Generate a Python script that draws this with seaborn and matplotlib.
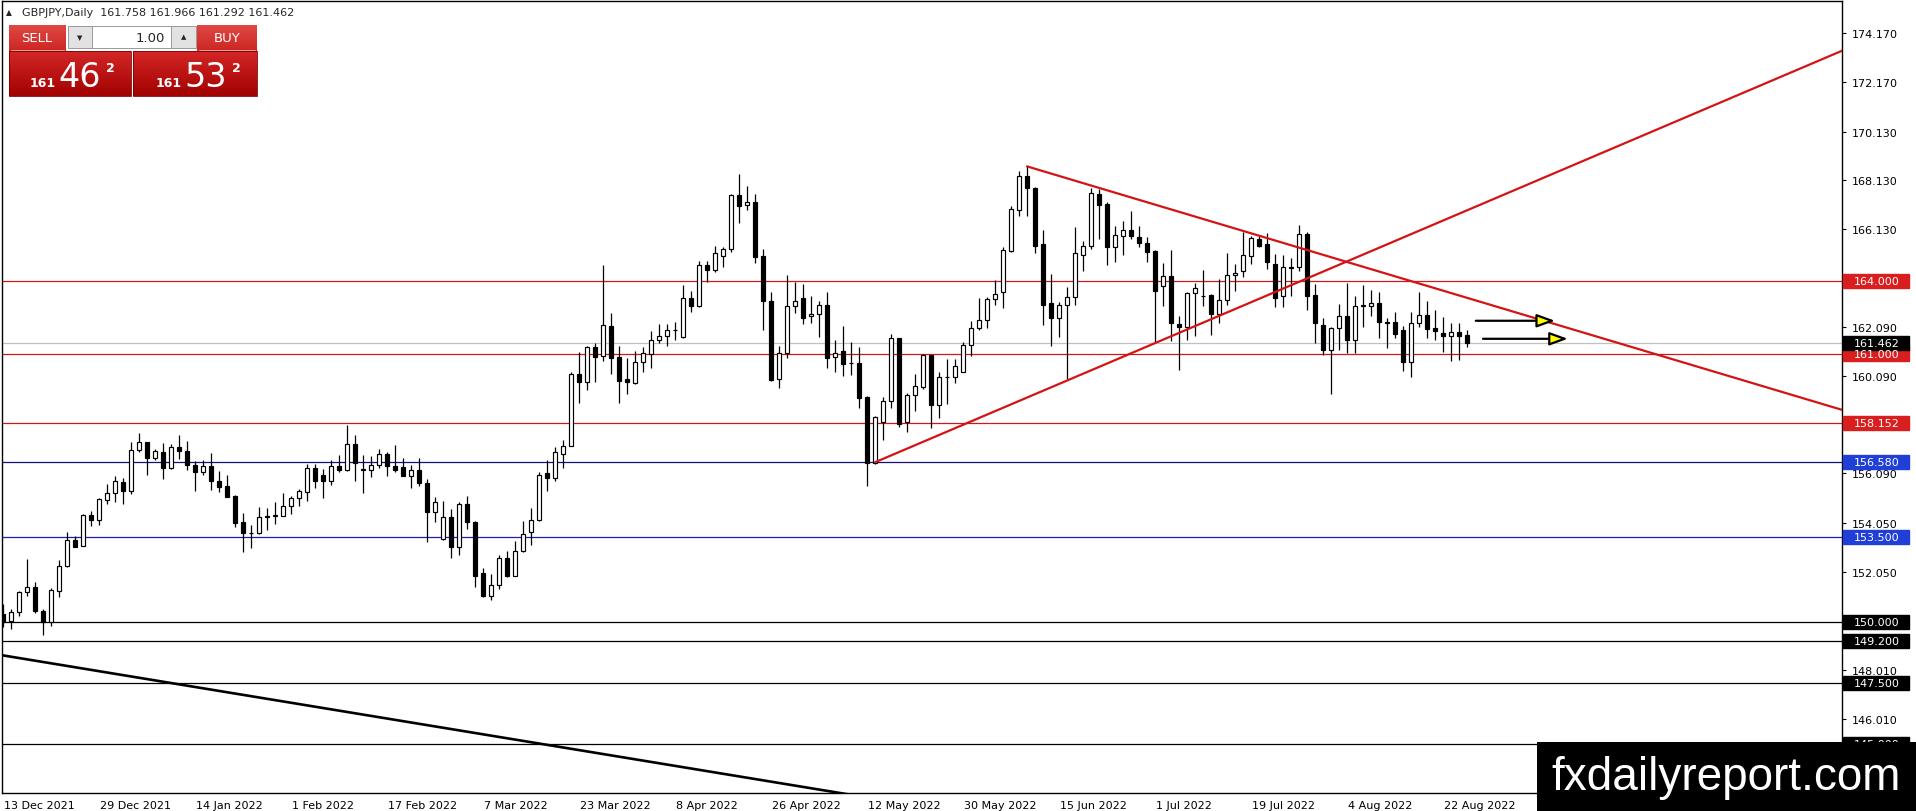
import matplotlib
matplotlib.use("Agg")
import matplotlib.pyplot as plt
import matplotlib.transforms as mtransforms
from matplotlib.patches import Rectangle
from matplotlib.colors import LinearSegmentedColormap
import numpy as np
import pandas as pd
import seaborn as sns

# chart header
symbol_title = "GBPJPY,Daily  161.758 161.966 161.292 161.462"
first_day = "2021-12-13"

# daily OHLC, one value per bar
opens = [150.32, 150.02, 150.39, 151.21, 151.42, 150.43, 150.00, 151.28, 152.28, 153.36,
         153.13, 154.39, 154.20, 155.02, 155.28, 155.73, 155.39, 157.07, 157.37, 156.71,
         156.96, 156.33, 157.17, 157.00, 156.45, 156.14, 156.39, 155.77, 155.56, 155.15,
         154.09, 153.66, 153.66, 154.29, 154.33, 154.36, 154.74, 155.07, 155.32, 156.30,
         156.02, 155.77, 156.41, 156.25, 157.30, 156.28, 156.25, 156.45, 156.88, 156.41,
         156.34, 156.00, 156.25, 155.69, 154.50, 153.40, 154.29, 153.06, 154.84, 154.09,
         152.01, 151.05, 151.51, 152.61, 151.90, 152.92, 153.67, 154.20, 156.10, 155.91,
         156.88, 157.23, 160.18, 159.86, 161.27, 160.90, 162.13, 160.86, 159.97, 159.81,
         160.66, 161.00, 161.55, 161.75, 162.00, 161.68, 163.28, 162.96, 164.63, 164.46,
         165.01, 165.31, 167.53, 167.12, 167.23, 165.04, 163.19, 159.97, 161.02, 162.96,
         163.28, 162.54, 162.63, 163.01, 160.86, 161.11, 160.63, 160.63, 159.22, 156.52,
         158.22, 159.08, 161.66, 158.19, 159.31, 159.63, 160.96, 158.92, 160.07, 160.04,
         160.25, 161.38, 162.05, 162.41, 163.26, 163.53, 165.24, 166.92, 168.29, 167.80,
         165.52, 163.09, 162.46, 163.01, 163.32, 165.05, 165.45, 167.57, 167.16, 165.38,
         165.85, 166.10, 165.79, 165.54, 165.21, 163.78, 164.19, 162.23, 162.09, 163.49,
         163.39, 163.42, 162.64, 163.22, 164.22, 164.42, 165.03, 165.72, 165.51, 164.69,
         163.39, 164.56, 164.56, 165.93, 163.42, 162.19, 161.18, 162.05, 162.55, 161.55,
         162.98, 162.98, 163.08, 162.30, 162.30, 161.98, 160.68, 162.26, 162.61, 162.07,
         161.85, 161.72, 161.89, 161.758]
highs = [150.73, 150.53, 151.28, 152.58, 151.62, 150.53, 151.38, 152.54, 153.67, 153.51,
         154.43, 154.54, 155.09, 155.66, 156.00, 155.89, 157.37, 157.75, 157.40, 157.10,
         157.34, 157.30, 157.67, 157.41, 156.62, 156.66, 156.92, 156.18, 156.03, 155.21,
         154.46, 153.98, 154.70, 154.66, 154.91, 155.29, 155.15, 155.45, 156.48, 156.48,
         156.27, 156.66, 156.85, 158.06, 157.69, 156.85, 156.80, 157.10, 156.99, 157.26,
         156.71, 156.45, 156.71, 155.87, 155.14, 154.95, 154.63, 154.91, 155.18, 154.15,
         152.21, 151.96, 152.74, 152.92, 153.33, 154.13, 154.66, 156.14, 156.66, 157.17,
         157.47, 160.25, 161.07, 161.34, 161.45, 164.63, 162.68, 161.31, 160.82, 161.13,
         161.30, 161.93, 162.23, 162.23, 162.30, 163.83, 163.57, 164.80, 164.83, 165.42,
         165.38, 167.57, 168.39, 167.88, 167.57, 165.31, 163.56, 161.34, 164.24, 163.97,
         163.87, 163.39, 163.19, 163.53, 161.57, 162.16, 161.48, 161.27, 159.26, 158.47,
         159.22, 161.82, 161.66, 159.38, 160.18, 161.00, 160.96, 160.24, 160.79, 160.79,
         161.50, 162.34, 163.28, 163.35, 164.05, 165.38, 167.06, 168.50, 168.70, 167.84,
         166.09, 164.28, 163.12, 163.74, 166.20, 165.65, 167.80, 167.77, 167.23, 166.27,
         166.47, 166.88, 166.27, 165.79, 165.28, 164.73, 165.27, 162.54, 163.56, 163.91,
         164.45, 163.46, 164.08, 165.15, 164.69, 166.02, 165.83, 165.83, 165.97, 165.10,
         165.06, 164.93, 166.29, 166.00, 163.87, 162.49, 162.09, 163.05, 163.90, 163.36,
         163.83, 163.64, 163.56, 162.46, 162.74, 162.16, 162.71, 163.53, 163.19, 162.81,
         162.50, 162.26, 162.26, 161.966]
lows = [149.77, 149.70, 150.22, 151.05, 150.36, 149.47, 149.84, 151.03, 152.24, 153.09,
        153.10, 153.95, 153.98, 154.84, 154.93, 154.84, 155.25, 156.96, 156.03, 156.66,
        155.87, 156.28, 156.69, 156.25, 155.39, 156.04, 155.43, 155.34, 155.11, 153.88,
        152.85, 153.04, 153.61, 153.78, 154.02, 154.33, 154.43, 154.74, 154.98, 155.50,
        155.08, 155.62, 156.17, 156.21, 155.80, 155.28, 155.93, 156.30, 156.00, 156.17,
        155.97, 155.48, 155.56, 153.29, 154.11, 153.37, 152.61, 152.74, 153.79, 151.42,
        151.00, 150.91, 151.35, 151.83, 151.90, 152.88, 153.15, 154.15, 155.39, 155.80,
        156.32, 157.21, 158.99, 159.53, 159.84, 160.72, 160.18, 158.99, 159.36, 159.77,
        160.24, 160.42, 161.45, 161.34, 161.59, 161.64, 162.74, 162.91, 163.97, 164.38,
        164.58, 165.17, 166.38, 166.91, 164.73, 162.00, 159.90, 159.59, 160.83, 162.68,
        162.23, 162.27, 161.71, 160.41, 160.25, 160.11, 160.14, 158.78, 155.56, 156.48,
        157.45, 158.77, 157.99, 157.81, 158.67, 159.56, 157.95, 158.36, 158.94, 159.79,
        160.25, 160.90, 162.00, 162.05, 163.01, 162.87, 165.20, 166.65, 166.65, 165.13,
        162.20, 161.31, 161.68, 159.97, 163.02, 164.42, 165.31, 165.72, 164.63, 164.76,
        165.06, 165.72, 165.38, 164.76, 161.50, 162.95, 161.54, 160.35, 161.55, 161.75,
        162.98, 161.78, 162.27, 163.01, 163.60, 164.15, 164.69, 165.38, 164.49, 162.94,
        162.94, 163.39, 164.42, 162.82, 161.45, 160.96, 159.35, 161.18, 161.04, 161.04,
        162.09, 162.57, 161.64, 161.23, 161.64, 160.31, 160.04, 162.09, 161.64, 161.59,
        161.09, 160.72, 160.76, 161.292]
closes = [149.98, 150.39, 151.21, 151.42, 150.43, 150.00, 151.31, 152.28, 153.36, 153.09,
          154.39, 154.20, 155.04, 155.29, 155.78, 155.39, 157.07, 157.37, 156.71, 157.00,
          156.33, 157.17, 157.00, 156.45, 156.17, 156.39, 155.77, 155.55, 155.14, 154.04,
          153.63, 153.64, 154.29, 154.33, 154.39, 154.74, 155.07, 155.39, 156.30, 155.80,
          155.77, 156.41, 156.25, 157.30, 156.51, 156.25, 156.45, 156.88, 156.41, 156.25,
          156.00, 156.25, 155.69, 154.50, 154.91, 154.29, 153.06, 154.84, 154.09, 151.90,
          151.05, 151.51, 152.61, 151.90, 152.89, 153.61, 154.20, 156.04, 155.91, 156.96,
          157.23, 160.18, 159.86, 161.27, 160.89, 162.19, 160.83, 159.90, 159.83, 160.66,
          161.02, 161.55, 161.75, 162.00, 161.98, 163.28, 162.96, 164.63, 164.46, 165.13,
          165.31, 167.53, 167.09, 167.23, 164.99, 163.19, 159.94, 161.02, 162.96, 163.16,
          162.49, 162.64, 163.01, 160.85, 161.02, 160.59, 160.61, 159.19, 156.52, 158.40,
          159.08, 161.64, 158.12, 159.31, 159.70, 160.96, 158.92, 160.04, 160.05, 160.49,
          161.37, 162.05, 162.41, 163.26, 163.46, 165.27, 166.95, 168.29, 167.80, 165.45,
          163.02, 162.46, 163.01, 163.32, 165.13, 165.45, 167.61, 167.13, 165.38, 165.88,
          166.10, 165.83, 165.54, 165.17, 163.57, 164.19, 162.26, 162.09, 163.49, 163.69,
          163.37, 162.64, 163.22, 164.24, 164.33, 165.06, 165.75, 165.45, 164.76, 163.28,
          164.56, 164.54, 165.93, 163.39, 162.27, 161.18, 162.05, 162.55, 161.55, 162.96,
          163.02, 163.08, 162.30, 162.28, 161.82, 160.68, 162.26, 162.61, 162.02, 161.96,
          161.72, 161.89, 161.72, 161.462]

date_ticks = ["13 Dec 2021", "29 Dec 2021", "14 Jan 2022", "1 Feb 2022", "17 Feb 2022",
              "7 Mar 2022", "23 Mar 2022", "8 Apr 2022", "26 Apr 2022", "12 May 2022",
              "30 May 2022", "15 Jun 2022", "1 Jul 2022", "19 Jul 2022", "4 Aug 2022",
              "22 Aug 2022"]

# horizontal levels
levels = [164.000, 161.000, 158.152, 156.580, 153.500, 150.000, 149.200, 147.500, 145.000]
level_line_colors = ["#D01818", "#D01818", "#D01818", "#12127A", "#1E1EA8",
                     "black", "black", "black", "black"]
level_label_colors = ["#D81E1E", "#D81E1E", "#D81E1E", "#1F3FD6", "#1F3FD6",
                      "black", "black", "black", "black"]
bid_price = 161.462

price_ticks = [174.170, 172.170, 170.130, 168.130, 166.130, 162.090, 160.090,
               156.090, 154.050, 152.050, 148.010, 146.010]

# trend lines: (bar, price) pairs
trend_bars = [[109, 229.9], [128, 229.9], [0, 110]]
trend_prices = [[156.55, 173.45], [168.70, 158.70], [148.62, 142.68]]
trend_colors = ["#D41414", "#D41414", "black"]
trend_widths = [1.6, 1.6, 1.9]

# yellow arrows
arrow_from = [184.1, 185.0]
arrow_to = [194.0, 195.6]
arrow_price = [162.36, 161.62]

W, H = 1916, 812

sns.set_style("white")
plt.rcParams["font.family"] = ["DejaVu Sans"]

df = pd.DataFrame({"open": opens, "high": highs, "low": lows, "close": closes})
df["date"] = pd.bdate_range(first_day, periods=len(df))
df["bar"] = np.arange(len(df))
bull = df["close"] >= df["open"]

fig = plt.figure(figsize=(W / 100, H / 100), dpi=100)
fig.patch.set_facecolor("white")
ax = fig.add_axes([2 / W, (H - 794) / H, 1840 / W, 792 / H])
ax.set_facecolor("white")

for p, c in zip(levels, level_line_colors):
    ax.axhline(p, color=c, lw=0.9, zorder=1)
ax.axhline(bid_price, color="#C0C0C0", lw=0.9, zorder=1)

ax.vlines(df["bar"], df["low"], df["high"], color="black", lw=0.9, zorder=3)
body_low = np.minimum(df["open"], df["close"])
body_h = np.maximum((df["close"] - df["open"]).abs(), 0.015)
ax.bar(df["bar"], body_h, bottom=body_low, width=0.62,
       color=np.where(bull, "white", "black"), edgecolor="black", lw=0.85, zorder=4)

for bx, py, col, w in zip(trend_bars, trend_prices, trend_colors, trend_widths):
    sns.lineplot(x=bx, y=py, color=col, lw=w, ax=ax, zorder=5)

for x0, x1, p in zip(arrow_from, arrow_to, arrow_price):
    ax.annotate("", xy=(x1, p), xytext=(x0, p),
                arrowprops=dict(arrowstyle="-|>,head_length=1.1,head_width=0.4",
                                fc="#FFFF00", ec="black", lw=1.6,
                                shrinkA=0, shrinkB=0),
                zorder=6)

ax.set_xlim(-0.125, 229.875)
ax.set_ylim(142.97, 175.49)

tick_pos = [int(df.index[df["date"] == pd.to_datetime(t, format="%d %b %Y")][0])
            for t in date_ticks]
ax.set_xticks(tick_pos)
ax.set_xticklabels(date_ticks)
ax.tick_params(axis="x", direction="out", length=4, width=0.8, pad=1,
               labelsize=8, colors="black")
shift = mtransforms.ScaledTranslation(1 / 100, 0, fig.dpi_scale_trans)
for lab in ax.get_xticklabels():
    lab.set_horizontalalignment("left")
    lab.set_transform(lab.get_transform() + shift)

ax.yaxis.tick_right()
ax.set_yticks(price_ticks)
ax.set_yticklabels([f"{t:.3f}" for t in price_ticks])
ax.tick_params(axis="y", direction="out", length=3, width=0.8, pad=4,
               labelsize=8, colors="black")
ax.set_xlabel("")
ax.set_ylabel("")
for s in ax.spines.values():
    s.set_visible(True)
    s.set_color("black")
    s.set_linewidth(1.0)

# price labels on the right scale
blend = mtransforms.blended_transform_factory(ax.transAxes, ax.transData)
box_w = 66 / 1840
box_h = 14 / 24.35
for p, c in list(zip(levels, level_label_colors)) + [(bid_price, "black")]:
    ax.add_patch(Rectangle((1.0008, p - box_h / 2), box_w, box_h, transform=blend,
                           fc=c, ec=c, clip_on=False, zorder=7))
    ax.text(1.0008 + box_w / 2, p, f"{p:.3f}", transform=blend, color="white",
            fontsize=8, ha="center", va="center", clip_on=False, zorder=8)

# overlay in pixel units for the terminal chrome
ov = fig.add_axes([0, 0, 1, 1], zorder=10)
ov.patch.set_alpha(0)
ov.axis("off")

ov.text(6, 13, "\u25b2", fontsize=5.5, ha="left", va="center")
ov.text(22, 13, symbol_title, fontsize=8, ha="left", va="center")

grad = np.linspace(0, 1, 64).reshape(-1, 1)
big_cmap = LinearSegmentedColormap.from_list("big", ["#D42626", "#A20202"])
top_cmap = LinearSegmentedColormap.from_list("top", ["#E04844", "#CC2622"])
for x0, x1 in [(9, 131), (133, 257)]:
    ov.imshow(grad, cmap=big_cmap, extent=(x0, x1, 97, 52), aspect="auto",
              interpolation="bilinear", zorder=1)
    ov.add_patch(Rectangle((x0, 52), x1 - x0, 45, fc="none", ec="#7A0000", lw=0.6, zorder=2))
for x0, x1 in [(9, 66), (197, 257)]:
    ov.imshow(grad, cmap=top_cmap, extent=(x0, x1, 52, 26), aspect="auto",
              interpolation="bilinear", zorder=1)
    ov.plot([x0 + 2, x1 - 2], [51, 51], color="#F2A0A0", lw=0.7, zorder=2)
ov.add_patch(Rectangle((68, 27), 24, 22, fc="#E2E2E2", ec="#9A9A9A", lw=0.7, zorder=2))
ov.add_patch(Rectangle((92, 27), 79, 22, fc="white", ec="#9A9A9A", lw=0.7, zorder=2))
ov.add_patch(Rectangle((171, 27), 25, 22, fc="#E2E2E2", ec="#9A9A9A", lw=0.7, zorder=2))
ov.text(80, 38, "\u25bc", fontsize=5, ha="center", va="center", zorder=3)
ov.text(183.5, 37, "\u25b2", fontsize=5, ha="center", va="center", zorder=3)
ov.text(165, 38, "1.00", fontsize=9.5, ha="right", va="center", zorder=3)
ov.text(37, 39, "SELL", fontsize=9.5, color="white", ha="center", va="center", zorder=3)
ov.text(227, 39, "BUY", fontsize=9.5, color="white", ha="center", va="center", zorder=3)
for xs, big in [(30, "46"), (156, "53")]:
    ov.text(xs, 87, "161", fontsize=9, fontweight="bold", color="white",
            ha="left", va="baseline", zorder=3)
    ov.text(xs + 28, 87, big, fontsize=24, color="white", ha="left",
            va="baseline", zorder=3)
    ov.text(xs + 76, 62, "2", fontsize=9, fontweight="bold", color="white",
            ha="left", va="top", zorder=3)

ov.add_patch(Rectangle((1537, 743), W - 1537, H - 743, fc="black", ec="none", zorder=8))
ov.text(1726, 778, "fxdailyreport.com", color="white", fontsize=33,
        family="Liberation Sans", ha="center", va="center", zorder=9)

ov.set_xlim(0, W)
ov.set_ylim(H, 0)

fig.savefig("out.png", dpi=100, facecolor="white")
